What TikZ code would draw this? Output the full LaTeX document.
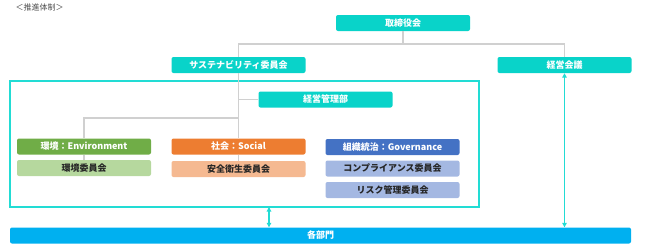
\documentclass[tikz,border=0pt]{standalone}
\usepackage{fontspec}
\setmainfont{Noto Sans CJK JP}
\usepackage{tikz}
\usetikzlibrary{positioning, arrows.meta}

\definecolor{boardteal}{RGB}{9,211,201}
\definecolor{frameteal}{RGB}{34,220,212}
\definecolor{deptblue}{RGB}{0,176,240}
\definecolor{envgreen}{RGB}{112,173,71}
\definecolor{envlight}{RGB}{182,216,158}
\definecolor{socorange}{RGB}{237,125,49}
\definecolor{soclight}{RGB}{245,185,145}
\definecolor{govblue}{RGB}{68,114,196}
\definecolor{govlight}{RGB}{164,184,226}
\definecolor{linkgray}{RGB}{208,208,208}

\tikzset{
  orgbox/.style={rounded corners=2pt, minimum width=134pt, minimum height=16pt,
    inner sep=0pt, font=\fontsize{9}{10}\selectfont\bfseries},
  tealbox/.style={orgbox, fill=boardteal, text=white},
  envhead/.style={orgbox, fill=envgreen, text=white},
  envsub/.style={orgbox, fill=envlight, text=black!85},
  sochead/.style={orgbox, fill=socorange, text=white},
  socsub/.style={orgbox, fill=soclight, text=black!85},
  govhead/.style={orgbox, fill=govblue, text=white},
  govsub/.style={orgbox, fill=govlight, text=black!85},
  deptbox/.style={orgbox, minimum width=621pt, fill=deptblue, text=white},
  link/.style={draw=linkgray, line width=1.6pt},
  twoway/.style={draw=frameteal, line width=1.1pt,
    {Triangle[length=4.5pt,width=4.5pt]}-{Triangle[length=4.5pt,width=4.5pt]}},
}

\begin{document}
\begin{tikzpicture}[x=1pt, y=-1pt]
  \useasboundingbox (0,0) rectangle (645,250);

  \node[anchor=west, font=\fontsize{8}{9}\selectfont, text=black!70] (title) at (12,7) {＜推進体制＞};

  % frame round the sustainability committee
  \draw[frameteal, line width=1.3pt] (10,81) rectangle (479,207);
  \coordinate (framebot) at (269,207);
  \coordinate (bus) at (403,44);
  \coordinate (split) at (238.5,118);

  % boxes
  \node[tealbox] (board) at (403,23) {取締役会};
  \node[tealbox] (sus) at (238.5,65) {サステナビリティ委員会};
  \node[tealbox] (mgmt) at (564.5,65) {経営会議};
  \node[tealbox] (admin) at (325.5,99.5) {経営管理部};

  \node[envhead] (env) at (84,146.5) {環境：Environment};
  \node[envsub] (envc) at (84,168) {環境委員会};
  \node[sochead] (soc) at (238.5,146.5) {社会：Social};
  \node[socsub] (socc) at (238.5,169) {安全衛生委員会};
  \node[govhead] (gov) at (392.5,147) {組織統治：Governance};
  \node[govsub] (comp) at (392.5,168.5) {コンプライアンス委員会};
  \node[govsub] (risk) at (392.5,190) {リスク管理委員会};

  \node[deptbox] (dept) at (320.5,235.5) {各部門};

  % links
  \draw[link] (board.south) -- (bus);
  \draw[link] (sus.north) |- (bus) -| (mgmt.north);
  \draw[link] (sus.south) -- (soc.north);
  \draw[link] (soc.south) -- (socc.north);
  \draw[link] (admin.west) -- (admin.west -| sus.south);
  \draw[link] (env.north) |- (split);
  \draw[link] (env.south) -- (envc.north);

  % arrows to the departments
  \draw[twoway] (mgmt.south) -- (dept.north -| mgmt.south);
  \draw[twoway] (framebot) -- (dept.north -| framebot);
\end{tikzpicture}
\end{document}
